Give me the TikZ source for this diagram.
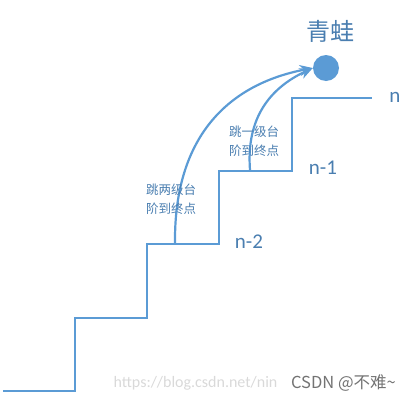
\documentclass[tikz,border=0pt]{standalone}
\usepackage{fontspec}
\setmainfont{Carlito}
\newfontfamily\cjk{Noto Sans CJK SC}
\usetikzlibrary{positioning, arrows.meta}
\definecolor{stairblue}{HTML}{5B9BD5}
\definecolor{labelblue}{HTML}{4A7EB0}

\begin{document}
\begin{tikzpicture}[x=1pt, y=-1pt,
  stair/.style={stairblue, line width=2.2pt},
  jump/.style={stairblue, line width=2.2pt, -{Stealth[length=13pt, width=11pt]}},
  note/.style={text=labelblue, align=center, font=\cjk\fontsize{12.5}{19}\selectfont}]
\useasboundingbox (0,0) rectangle (405,402);

% staircase
\draw[stair] (3,391) -| (75,318) -| (147,244) -| (219,171) -| (292,98) -- (372,98);

% step labels
\node[text=labelblue, font=\fontsize{21}{23}\selectfont] (stepN) at (395,97) {n};
\node[text=labelblue, font=\fontsize{21}{23}\selectfont] (stepNone) at (323,168) {n-1};
\node[text=labelblue, font=\fontsize{21}{23}\selectfont] (stepNtwo) at (249,242) {n-2};

% frog
\node[circle, fill=stairblue, minimum size=26pt, inner sep=0pt] (frog) at (326,68) {};
\node[text=labelblue, font=\cjk\fontsize{24}{26}\selectfont] (frogName) at (330,31) {青蛙};

% jumps
\coordinate (twoStart) at (175,243);
\coordinate (oneStart) at (250,170);
\draw[jump] (twoStart) .. controls (174,140) and (225,85) .. (frog.west);
\draw[jump] (oneStart) .. controls (246,118) and (270,88) .. (frog.west);
\node[note] (twoNote) at (171,199) {跳两级台\\阶到终点};
\node[note] (oneNote) at (254,141) {跳一级台\\阶到终点};

% watermark
\node[text=black!15, anchor=west, font=\fontsize{16}{18}\selectfont] (url) at (110,383) {https://blog.csdn.net/nin};
\node[text=black!55, fill=white, inner sep=1pt, anchor=east, font=\cjk\fontsize{16.5}{18}\selectfont] (mark) at (397,383) {CSDN @不难\textasciitilde};
\end{tikzpicture}
\end{document}
